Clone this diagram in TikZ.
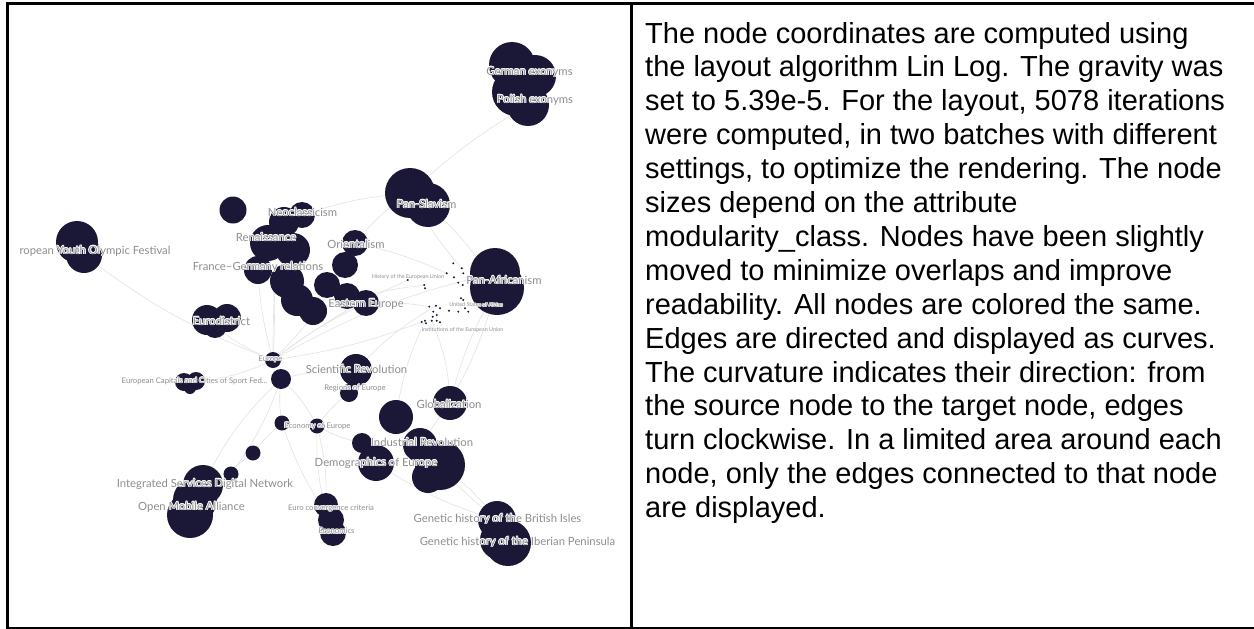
\documentclass[tikz,border=0pt]{standalone}
\usepackage{fontspec}
\setmainfont{Liberation Sans}
\newfontfamily\labfont{Lato}
\definecolor{navy}{HTML}{1A1836}
\definecolor{labgrey}{HTML}{8E8E8E}
\definecolor{edgegrey}{HTML}{E2E2E2}
\pgfdeclarelayer{bg}
\pgfsetlayers{bg,main}
\newcommand\halocopy[3]{\makebox[0pt][l]{\kern#1\raisebox{#2}{\color{white}#3}}}
\newcommand\hal[1]{\leavevmode
  \halocopy{-.8pt}{0pt}{#1}\halocopy{.8pt}{0pt}{#1}%
  \halocopy{0pt}{.8pt}{#1}\halocopy{0pt}{-.8pt}{#1}%
  \halocopy{-.56pt}{.56pt}{#1}\halocopy{.56pt}{.56pt}{#1}%
  \halocopy{-.56pt}{-.56pt}{#1}\halocopy{.56pt}{-.56pt}{#1}%
  #1}
\tikzset{
  blob/.style={circle, fill=navy, inner sep=0pt, minimum size={2*#1pt}},
  tdot/.style={circle, fill=navy, inner sep=0pt, minimum size=2.2pt},
  link/.style={draw=edgegrey, line width=0.6pt},
  labbig/.style={font=\labfont\fontsize{11.3}{13}\selectfont, text=labgrey, inner sep=0pt},
  labsmall/.style={font=\labfont\fontsize{7.7}{9}\selectfont, text=labgrey, inner sep=0pt},
  labtiny/.style={font=\labfont\fontsize{5.4}{6.5}\selectfont, text=labgrey, inner sep=0pt},
  desc/.style={font=\fontsize{29}{34}\selectfont, inner sep=0pt, anchor=base west},
  rule/.style={line width=2.7pt, black},
}
\begin{document}
\begin{tikzpicture}[x=1pt, y=-1pt]
\useasboundingbox (0,0) rectangle (1254,629);
% frame
\draw[rule] (6,3.35) -- (1254,3.35);
\draw[rule] (7.35,2) -- (7.35,629);
\draw[rule] (6,628.4) -- (1254,628.4);
\draw[line width=3pt] (631.2,2) -- (631.2,629);

% ---------- graph nodes (circles) ----------
\node[blob=23] (ge1) at (512,65) {};
\node[blob=21] (ge2) at (535,76) {};
\node[blob=24] (ge3) at (516,92) {};
\node[blob=21] (ge4) at (528,105) {};
\node[blob=25] (ps1) at (410,193) {};
\node[blob=22] (ps2) at (428,205) {};
\node[blob=13.5] (sc) at (233,210) {};
\node[blob=15] (n1) at (284,222) {};
\node[blob=13] (n2) at (302,215) {};
\node[blob=18] (n3) at (268,243) {};
\node[blob=17] (n4) at (293,250) {};
\node[blob=14] (n5) at (258,270) {};
\node[blob=17] (n6) at (287,281) {};
\node[blob=16] (n7) at (297,300) {};
\node[blob=14] (n8) at (313,311) {};
\node[blob=13] (or1) at (355,243) {};
\node[blob=13] (or2) at (345,265) {};
\node[blob=13] (ee1) at (327,285) {};
\node[blob=13] (ee2) at (347,296) {};
\node[blob=13] (ee3) at (366,303) {};
\node[blob=25] (pa1) at (495,273) {};
\node[blob=27] (pa2) at (497,288) {};
\node[blob=21] (yo1) at (77,242) {};
\node[blob=18] (yo2) at (84,255) {};
\node[blob=15] (ed1) at (207,320) {};
\node[blob=14] (ed2) at (227,318) {};
\node[blob=12] (ed3) at (215,326) {};
\node[blob=8] (eu1) at (273,360) {};
\node[blob=10] (eu2) at (281,379) {};
\node[blob=9] (ec1) at (184,382) {};
\node[blob=9] (ec2) at (196,381) {};
\node[blob=6] (ec3) at (190,388) {};
\node[blob=16] (sr1) at (356,370) {};
\node[blob=9] (sr2) at (349,393) {};
\node[blob=7.5] (em1) at (282,423) {};
\node[blob=7.5] (em2) at (317,426) {};
\node[blob=17] (bc) at (396,417) {};
\node[blob=7.5] (s1) at (253,453) {};
\node[blob=7.5] (s2) at (231,474) {};
\node[blob=17] (gl) at (450,403) {};
\node[blob=17] (ir1) at (420,445) {};
\node[blob=25] (ir2) at (440,465) {};
\node[blob=16] (ir3) at (428,477) {};
\node[blob=10] (de1) at (362,443) {};
\node[blob=18] (de2) at (376,463) {};
\node[blob=20] (om1) at (203,485) {};
\node[blob=22] (om2) at (195,500) {};
\node[blob=23] (om3) at (190,515) {};
\node[blob=12] (cv1) at (326,505) {};
\node[blob=13] (cv2) at (331,520) {};
\node[blob=13] (cv3) at (333,533) {};
\node[blob=19] (gh1) at (497,520) {};
\node[blob=20] (gh2) at (500,540) {};
\node[blob=23] (gh3) at (508,543) {};
\foreach \p [count=\k] in {(453.3,263.3),(461.7,268.3),(463.3,273.3),(454,277.3),(458.3,282.7),(462.7,285),(424.3,285),(425,288.3),(407.7,280),(446.7,273.3),(461,298.3),(463.3,300),(429.3,306.7),(436,305.7),(440,308.3),(433.3,311.7),(436.7,315),(432.7,316.7),(425,320.7),(421.7,322),(426,323.3),(431.7,320.7),(436.7,320.7),(440,322.3),(449,310.7),(458.3,311.7),(468.3,311.7),(465,308.3)}
  \node[tdot] (d\k) at \p {};

% ---------- edges (behind nodes) ----------
\begin{pgfonlayer}{bg}
\draw[link] (yo2.center) to[bend right=8] (eu1.center);
\draw[link] (ps1.center) to[bend left=6] (ge4.center);
\draw[link] (eu1.center) to[bend left=8] (ed1.center);
\draw[link] (eu1.center) to[bend left=6] (n5.center);
\draw[link] (eu1.center) to[bend right=6] (n3.center);
\draw[link] (eu1.center) to[bend left=5] (n1.center);
\draw[link] (eu1.center) to[bend right=8] (or2.center);
\draw[link] (eu1.center) to[bend left=6] (ee3.center);
\draw[link] (eu1.center) to[bend right=6] (d20.center);
\draw[link] (eu1.center) to[bend left=6] (d9.center);
\draw[link] (eu1.center) to[bend left=10] (ec2.center);
\draw[link] (eu2.center) to[bend left=8] (sr1.center);
\draw[link] (eu2.center) to[bend right=8] (em1.center);
\draw[link] (eu2.center) to[bend left=10] (em2.center);
\draw[link] (eu2.center) to[bend right=10] (om1.center);
\draw[link] (eu2.center) to[bend left=8] (s2.center);
\draw[link] (eu1.center) to[bend left=8] (pa1.center);
\draw[link] (ps2.center) to[bend left=8] (pa2.center);
\draw[link] (ps1.center) to[bend right=6] (d2.center);
\draw[link] (ps1.center) to[bend right=8] (or1.center);
\draw[link] (gl.center) to[bend right=10] (d22.center);
\draw[link] (bc.center) to[bend left=8] (d19.center);
\draw[link] (de2.center) to[bend right=8] (gh1.center);
\draw[link] (ir2.center) to[bend left=8] (gh1.center);
\draw[link] (em2.center) to[bend left=8] (cv1.center);
\draw[link] (em1.center) to[bend right=8] (cv2.center);
\draw[link] (em2.center) to[bend right=10] (cv3.center);
\draw[link] (s1.center) to[bend left=6] (em1.center);
\draw[link] (sr1.center) to[bend left=8] (d14.center);
\draw[link] (om1.center) to[bend right=6] (s1.center);
\draw[link] (ir1.center) to[bend right=10] (pa2.center);
\draw[link] (ee3.center) to[bend left=6] (d13.center);
\draw[link] (n1.center) to[bend left=8] (ps1.center);
\draw[link] (gl.center) to[bend left=8] (pa2.center);
\draw[link] (de1.center) to[bend left=8] (em2.center);
\draw[link] (sr2.center) to[bend right=8] (em2.center);
\draw[link] (n8.center) to[bend left=6] (d7.center);
\draw[link] (or1.center) to[bend left=6] (d10.center);
\draw[link] (bc.center) to[bend right=6] (gh1.center);
\end{pgfonlayer}

% ---------- labels ----------
\node[labbig] (lge) at (529.5,72) {\hal{German exonyms}};
\node[labbig] (lpe) at (535,100) {\hal{Polish exonyms}};
\node[labbig] (lps) at (426.5,204) {\hal{Pan-Slavism}};
\node[labbig] (lnc) at (302.5,212) {\hal{Neoclassicism}};
\node[labbig] (lre) at (266,237) {\hal{Renaissance}};
\node[labbig] (lyo) at (95,251) {\hal{ropean Youth Olympic Festival}};
\node[labbig] (lor) at (356,244) {\hal{Orientalism}};
\node[labbig] (lfg) at (258,267) {\hal{France–Germany relations}};
\node[labtiny] (lhe) at (408,277) {\hal{History of the European Union}};
\node[labbig] (lpa) at (504,280) {\hal{Pan-Africanism}};
\node[labbig] (lee) at (366,304) {\hal{Eastern Europe}};
\node[labtiny] (lus) at (476,305) {\hal{United States of Africa}};
\node[labtiny] (lie) at (462.5,330) {\hal{Institutions of the European Union}};
\node[labbig] (led) at (221.5,321) {\hal{Eurodistrict}};
\node[labsmall] (leu) at (270.5,359) {\hal{Europe}};
\node[labsmall] (lec) at (194.5,381) {\hal{European Capitals and Cities of Sport Fed...}};
\node[labbig] (lsr) at (356.5,369) {\hal{Scientific Revolution}};
\node[labsmall] (lrg) at (355,388) {\hal{Regions of Europe}};
\node[labbig] (lgl) at (449,404) {\hal{Globalization}};
\node[labsmall] (lem) at (317.5,426) {\hal{Economy of Europe}};
\node[labbig] (lir) at (422,442) {\hal{Industrial Revolution}};
\node[labbig] (lde) at (376,463) {\hal{Demographics of Europe}};
\node[labbig] (lis) at (205,484) {\hal{Integrated Services Digital Network}};
\node[labbig] (lom) at (191.5,507) {\hal{Open Mobile Alliance}};
\node[labsmall] (lcv) at (331,508) {\hal{Euro convergence criteria}};
\node[labsmall] (lecn) at (336.5,531) {\hal{Economics}};
\node[labbig] (lgb) at (497.5,519) {\hal{Genetic history of the British Isles}};
\node[labbig] (lgi) at (517.5,542) {\hal{Genetic history of the Iberian Peninsula}};

% ---------- description ----------
\foreach \t [count=\i] in {
  {The node coordinates are computed using},
  {the layout algorithm Lin Log. The gravity was},
  {set to 5.39e-5. For the layout, 5078 iterations},
  {were computed, in two batches with different},
  {settings, to optimize the rendering. The node},
  {sizes depend on the attribute},
  {modularity\_class. Nodes have been slightly},
  {moved to minimize overlaps and improve},
  {readability. All nodes are colored the same.},
  {Edges are directed and displayed as curves.},
  {The curvature indicates their direction: from},
  {the source node to the target node, edges},
  {turn clockwise. In a limited area around each},
  {node, only the edges connected to that node},
  {are displayed.}}
  \node[desc] (line\i) at (645,{43+33.9*(\i-1)}) {\t};
\end{tikzpicture}
\end{document}
